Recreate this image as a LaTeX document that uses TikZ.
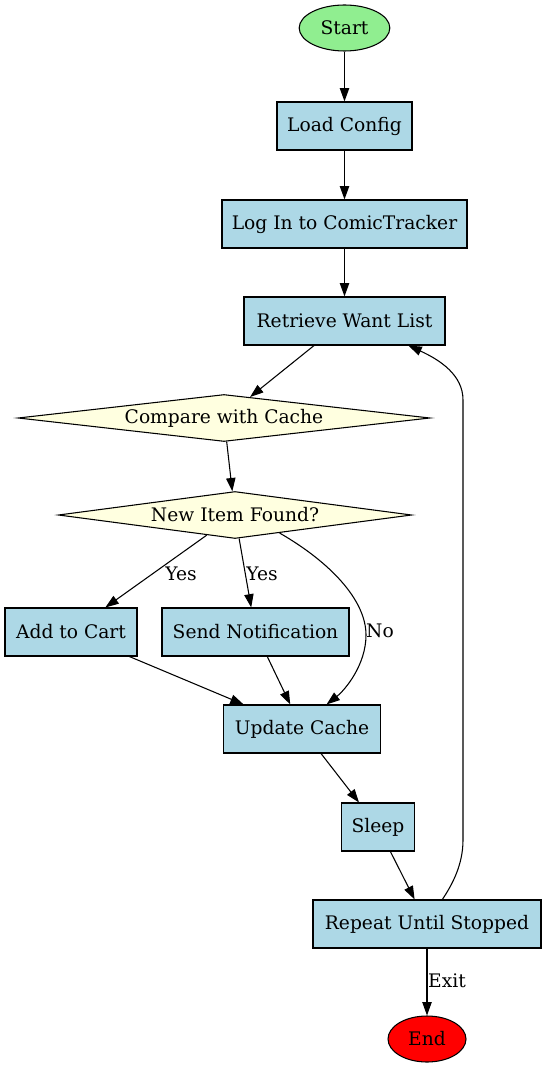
\documentclass[tikz,border=0pt]{standalone}
\usepackage{fontspec}
\setmainfont{DejaVu Serif}
\usetikzlibrary{shapes.geometric,arrows.meta}
\definecolor{boxblue}{HTML}{ADD8E6}
\definecolor{ltyellow}{HTML}{FFFFE0}
\definecolor{ltgreen}{HTML}{90EE90}
\begin{document}
\begin{tikzpicture}[x=0.75pt,y=-0.75pt, font=\fontsize{14}{16}\selectfont,
  stepbox/.style={draw, fill=boxblue, rectangle, minimum height=36pt, minimum width=54pt, inner xsep=2pt, line width=0.8pt},
  decision/.style={draw, fill=ltyellow, diamond, shape aspect=9, inner sep=0pt, minimum height=35.25pt, line width=0.8pt},
  terminal/.style={draw, ellipse, inner sep=0pt, minimum height=34.5pt, line width=0.8pt},
  arr/.style={-{Triangle[length=10pt,width=7pt]}, line width=0.8pt},
  lbl/.style={inner sep=0pt}]
\useasboundingbox (0,0) rectangle (547,1069);
\fill[white] (0,0) rectangle (547,1069);

\node[terminal, fill=ltgreen, minimum width=68pt] (start) at (344.5,28) {Start};
\node[stepbox, minimum width=101.25pt] (load) at (344.5,126) {Load Config};
\node[stepbox, minimum width=183.75pt] (login) at (344.5,224) {Log In to ComicTracker};
\node[stepbox, minimum width=150.75pt] (ret) at (344.5,321) {Retrieve Want List};
\node[decision, minimum width=309pt] (cmp) at (224,418) {Compare with Cache};
\node[decision, minimum width=265pt] (nif) at (235,515) {New Item Found?};
\node[stepbox, minimum width=99pt] (cart) at (71,632) {Add to Cart};
\node[stepbox, minimum width=140.25pt] (notif) at (255.5,632) {Send Notification};
\node[stepbox, minimum width=117.75pt] (upd) at (302,729) {Update Cache};
\node[stepbox, minimum width=54.75pt] (sleep) at (378,827) {Sleep};
\node[stepbox, minimum width=171pt] (rep) at (427,924) {Repeat Until Stopped};
\node[terminal, fill=red, minimum width=58.5pt] (end) at (427,1039) {End};

\draw[arr] (start) -- (load);
\draw[arr] (load) -- (login);
\draw[arr] (login) -- (ret);
\draw[arr] (ret) -- (cmp);
\draw[arr] (cmp) -- (nif);
\draw[arr] (nif) -- (cart);
\draw[arr] (nif) -- (notif);
\draw[arr] (nif.-22) .. controls (330,562) and (366,600) .. (366,635) .. controls (366,665) and (345,690) .. (upd.45);
\draw[arr] (cart) -- (upd);
\draw[arr] (notif) -- (upd);
\draw[arr] (upd) -- (sleep);
\draw[arr] (sleep) -- (rep);
\draw[arr] (rep.58) .. controls (452,885) and (463,865) .. (463,840) -- (463,400) .. controls (463,375) and (440,360) .. (ret.-21.5);
\draw[arr] (rep) -- (end);

\node[lbl] (l1) at (181,574) {Yes};
\node[lbl] (l2) at (262,574) {Yes};
\node[lbl] (l3) at (380,631) {No};
\node[lbl] (l4) at (447,981) {Exit};
\end{tikzpicture}
\end{document}
